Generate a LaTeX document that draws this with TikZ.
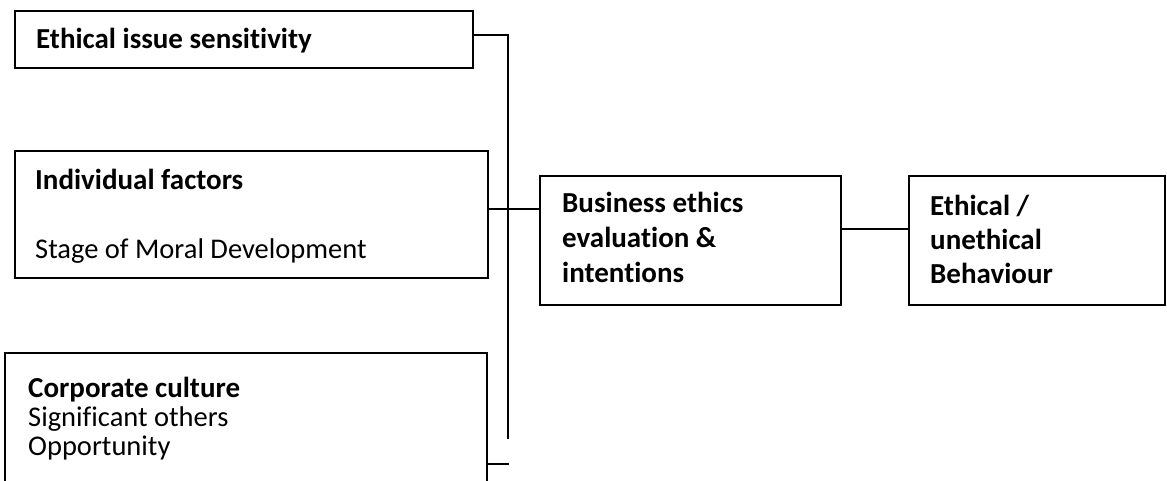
\documentclass[tikz,border=0pt]{standalone}
\usepackage{fontspec}
\setmainfont{Carlito}[Ligatures={NoCommon,NoRare,NoContextual}]
\begin{document}
\begin{tikzpicture}[x=1pt,y=-1pt,
  box/.style={draw=black,line width=1.6pt,inner sep=0pt,outer sep=0pt,anchor=north west},
  txt/.style={anchor=base west,inner sep=0pt,font=\fontsize{28.5}{34}\selectfont},
  bt/.style={anchor=base west,inner sep=0pt,font=\fontsize{29}{34}\selectfont\bfseries},
  link/.style={line width=1.6pt,line cap=rect}]
\clip (0,0) rectangle (1167,480);
% boxes
\node[box,minimum width=458pt,minimum height=57pt] (b1) at (15,11) {};
\node[box,minimum width=473pt,minimum height=127pt] (b2) at (15,151) {};
\node[box,minimum width=482pt,minimum height=150pt] (b3) at (5,353) {};
\node[box,minimum width=301pt,minimum height=129pt] (bus) at (540,176) {};
\node[box,minimum width=256pt,minimum height=129pt] (eth) at (909,176) {};
% texts
\node[bt] (t1) at (36,48) {Ethical issue sensitivity};
\node[bt] (t2a) at (35,189) {Individual factors};
\node[txt] (t2b) at (35,258) {Stage of Moral Development};
\node[bt] (t3a) at (28,397) {Corporate culture};
\node[txt] (t3b) at (28,426) {Significant others};
\node[txt] (t3c) at (28,455) {Opportunity};
\node[bt] (ta) at (562,212) {Business ethics};
\node[bt] (tb) at (562,247) {evaluation \&};
\node[bt] (tc) at (562,282) {intentions};
\node[bt] (ea) at (930,215) {Ethical /};
\node[bt] (eb) at (930,249) {unethical};
\node[bt] (ec) at (930,283) {Behaviour};
% connectors
\coordinate (j1) at (508,35);
\coordinate (j1e) at (508,438);
\coordinate (j3) at (508,464);
\coordinate (y2) at (0,209);
\coordinate (y4) at (0,229);
\draw[link] (b1.east |- j1) -- (j1) -- (j1e);
\draw[link] (b2.east |- y2) -- (bus.west |- y2);
\draw[link] (b3.east |- j3) -- (j3);
\draw[link] (bus.east |- y4) -- (eth.west |- y4);
\end{tikzpicture}
\end{document}
